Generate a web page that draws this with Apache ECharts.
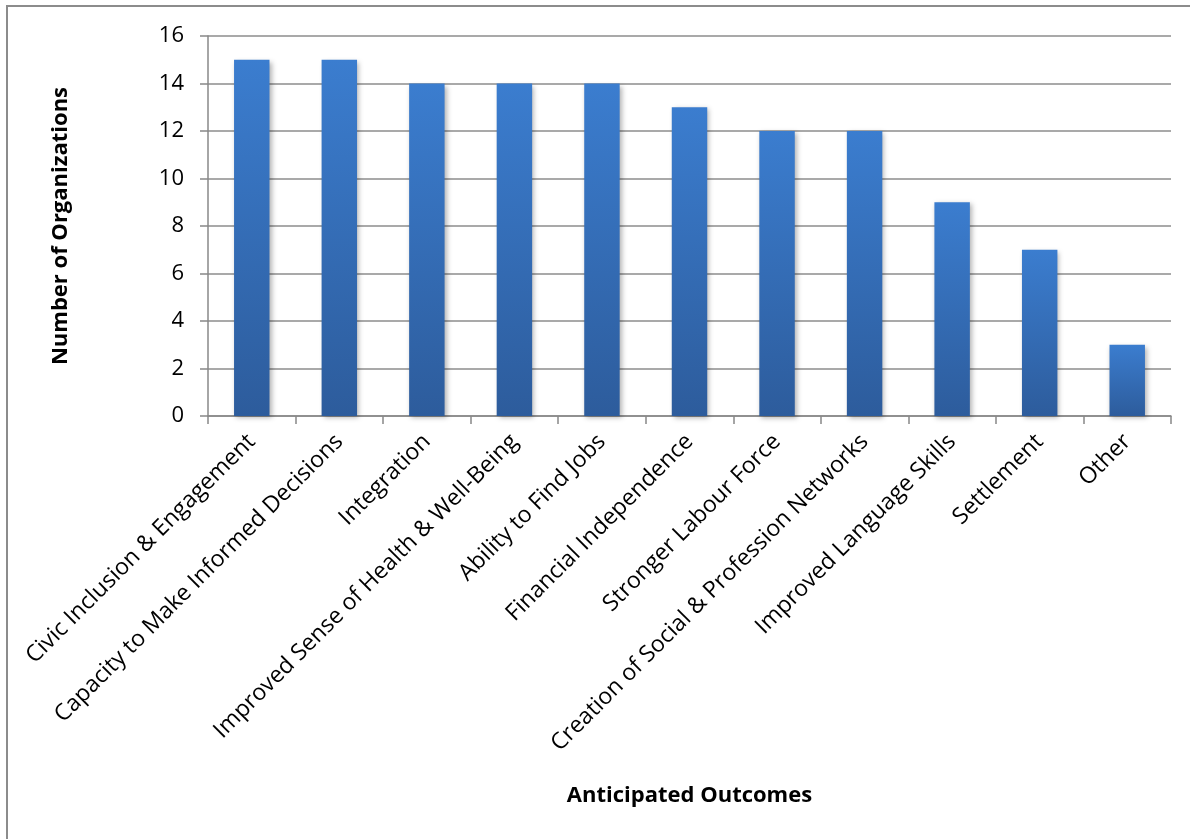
<!DOCTYPE html>
<html>
<head>
<meta charset="utf-8">
<script src="https://cdn.jsdelivr.net/npm/echarts@6/dist/echarts.min.js"></script>
<style>
html,body{margin:0;padding:0;background:#fff;}
#chart{width:1190px;height:839px;}
</style>
</head>
<body>
<div id="chart"></div>
<script>
const categories = [
  "Civic Inclusion & Engagement",
  "Capacity to Make Informed Decisions",
  "Integration",
  "Improved Sense of Health & Well-Being",
  "Ability to Find Jobs",
  "Financial Independence",
  "Stronger Labour Force",
  "Creation of Social & Profession Networks",
  "Improved Language Skills",
  "Settlement",
  "Other"
];
const values = [15, 15, 14, 14, 14, 13, 12, 12, 9, 7, 3];
const yTicks = { min: 0, max: 16, interval: 2 };
const xTitle = "Anticipated Outcomes";
const yTitle = "Number of Organizations";

const chart = echarts.init(document.getElementById('chart'), null, {renderer: 'canvas'});
const font = '"Open Sans", Lato, sans-serif';
chart.setOption({
  animation: false,
  backgroundColor: '#ffffff',
  textStyle: { fontFamily: font },
  graphic: [{
    type: 'rect',
    shape: { x: 7, y: 6, width: 1300, height: 1000 },
    style: { fill: 'none', stroke: '#8c8c8c', lineWidth: 2 },
    silent: true,
    z: -1
  }],
  grid: { left: 208, right: 19, top: 36, bottom: 423, containLabel: false },
  xAxis: {
    type: 'category',
    data: categories,
    name: xTitle,
    nameLocation: 'middle',
    nameGap: 369,
    nameTextStyle: { fontFamily: font, fontSize: 22, fontWeight: 'bold', color: '#000' },
    axisLine: { show: true, lineStyle: { color: '#888888', width: 1.5 } },
    axisTick: { show: true, alignWithLabel: false, length: 8, lineStyle: { color: '#888888', width: 1.5 } },
    axisLabel: { rotate: 45, interval: 0, margin: 22, fontFamily: font, fontSize: 23, color: '#000' },
    splitLine: { show: false }
  },
  yAxis: {
    type: 'value',
    min: yTicks.min,
    max: yTicks.max,
    interval: yTicks.interval,
    name: yTitle,
    nameLocation: 'middle',
    nameGap: 136,
    nameRotate: 90,
    nameTextStyle: { fontFamily: font, fontSize: 22, fontWeight: 'bold', color: '#000' },
    axisLine: { show: true, lineStyle: { color: '#888888', width: 1.5 } },
    axisTick: { show: true, length: 8, lineStyle: { color: '#888888', width: 1.5 } },
    axisLabel: { margin: 24, fontFamily: font, fontSize: 22, color: '#000' },
    splitLine: { show: true, lineStyle: { color: '#8c8c8c', width: 1.5 } }
  },
  series: [{
    type: 'bar',
    data: values,
    barWidth: '40.5%',
    itemStyle: {
      color: new echarts.graphic.LinearGradient(0, 0, 0, 1, [
        { offset: 0, color: '#3b7dcf' },
        { offset: 1, color: '#2d5c9c' }
      ]),
      shadowColor: 'rgba(0,0,0,0.3)',
      shadowBlur: 5,
      shadowOffsetX: 2,
      shadowOffsetY: 2
    }
  }]
});
</script>
</body>
</html>
